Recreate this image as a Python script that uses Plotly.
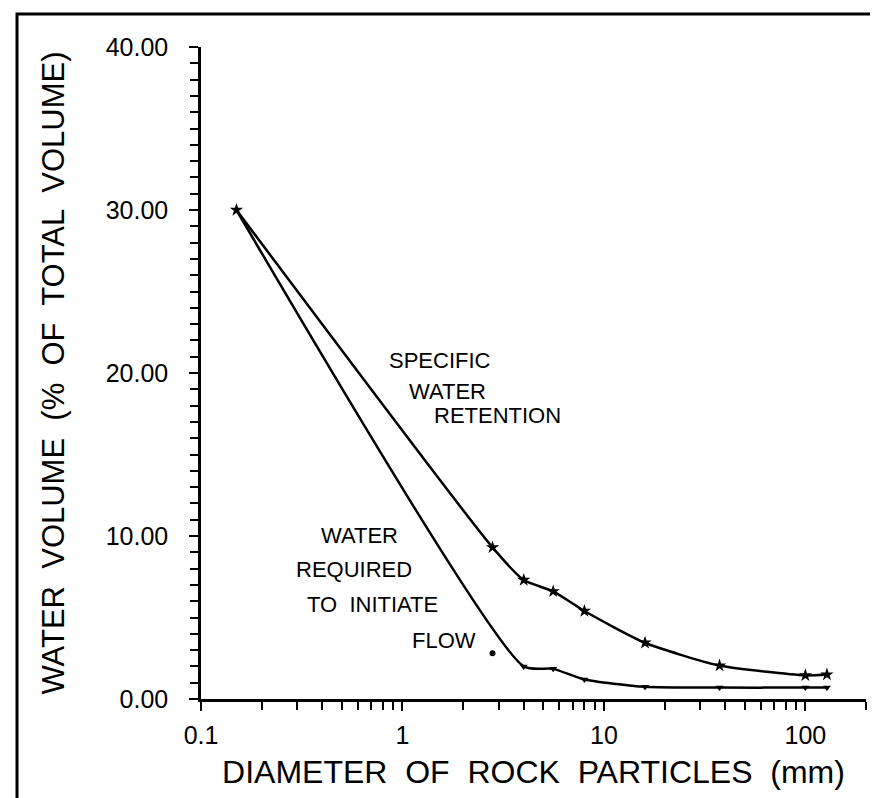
import plotly.graph_objects as go

# ---------------- data ----------------
diameter_mm = [0.15, 2.8, 4.0, 5.6, 8.0, 16.0, 37.5, 100.0, 128.0]
specific_retention = [30.0, 9.3, 7.3, 6.6, 5.4, 3.45, 2.05, 1.45, 1.5]

flow_diameter_mm = [0.15, 4.0, 5.6, 8.0, 16.0, 37.5, 100.0, 128.0]
water_to_flow = [30.0, 2.0, 1.85, 1.2, 0.75, 0.7, 0.7, 0.7]
outlier_diameter_mm = [2.8]
outlier_water = [2.8]

x_tick_vals = [0.1, 1, 10, 100]
x_tick_text = ["0.1", "1", "10", "100"]
x_minor_vals = [v * m for v in [0.1, 1, 10] for m in range(2, 10)] + [200]
y_tick_vals = [0, 10, 20, 30, 40]
y_tick_text = ["0.00", "10.00", "20.00", "30.00", "40.00"]

# ---------------- layout helpers ----------------
W, H = 878, 798
L, R, T, B = 193, 20, 39, 107
PW, PH = W - L - R, H - T - B


def px(x):
    return (x - L) / PW


def py(y):
    return (H - B - y) / PH


FONT = "Liberation Sans, Arial, sans-serif"

fig = go.Figure()

fig.add_trace(go.Scatter(
    x=diameter_mm, y=specific_retention, mode="lines+markers",
    line=dict(color="black", width=2.5, shape="spline", smoothing=0.6),
    marker=dict(symbol="star", size=10, color="black"),
    showlegend=False, cliponaxis=False))

fig.add_trace(go.Scatter(
    x=flow_diameter_mm, y=water_to_flow, mode="lines+markers",
    line=dict(color="black", width=2.5, shape="spline", smoothing=0.6),
    marker=dict(symbol="triangle-down", size=7, color="black"),
    showlegend=False, cliponaxis=False))

fig.add_trace(go.Scatter(
    x=outlier_diameter_mm, y=outlier_water, mode="markers",
    marker=dict(symbol="circle", size=6, color="black"),
    showlegend=False))

labels = [
    ("SPECIFIC", 432, 352), ("WATER", 439, 383), ("RETENTION", 489, 408),
    ("WATER", 351, 527), ("REQUIRED", 346, 561), ("TO  INITIATE", 364, 596),
    ("FLOW", 436, 632),
]
annotations = [
    dict(text=t, x=px(x), y=py(y), xref="paper", yref="paper",
         xanchor="center", yanchor="middle", showarrow=False,
         font=dict(family=FONT, size=22, color="black"))
    for t, x, y in labels
]

fig.update_layout(
    width=W, height=H,
    margin=dict(l=L, r=R, t=T, b=B, pad=0),
    paper_bgcolor="white", plot_bgcolor="white",
    font=dict(family=FONT, color="black"),
    annotations=annotations,
    shapes=[dict(type="rect", xref="paper", yref="paper",
                 x0=px(9), x1=px(874), y0=py(794), y1=py(6),
                 line=dict(color="black", width=3))],
    xaxis=dict(
        type="log", range=[-1, 2.30103],
        tickvals=x_tick_vals, ticktext=x_tick_text,
        ticks="outside", ticklen=9, tickwidth=2, tickcolor="black",
        showline=True, linecolor="black", linewidth=2.5,
        showgrid=False, zeroline=False,
        tickfont=dict(size=25), ticklabelstandoff=3,
        minor=dict(tickvals=x_minor_vals, ticks="outside", ticklen=8,
                   tickwidth=2, tickcolor="black", showgrid=False),
        title=dict(text="DIAMETER  OF  ROCK  PARTICLES  (mm)",
                   font=dict(size=32), standoff=13),
    ),
    yaxis=dict(
        range=[0, 40],
        tickvals=y_tick_vals, ticktext=y_tick_text,
        ticks="outside", ticklen=9, tickwidth=2, tickcolor="black",
        showline=True, linecolor="black", linewidth=2.5,
        showgrid=False, zeroline=False,
        tickfont=dict(size=25), ticklabelstandoff=16,
        minor=dict(dtick=1, ticks="outside", ticklen=8, tickwidth=2,
                   tickcolor="black", showgrid=False),
        title=dict(text="WATER  VOLUME  (%  OF  TOTAL  VOLUME)",
                   font=dict(size=31), standoff=32),
    ),
)

fig.write_html("out.html")
